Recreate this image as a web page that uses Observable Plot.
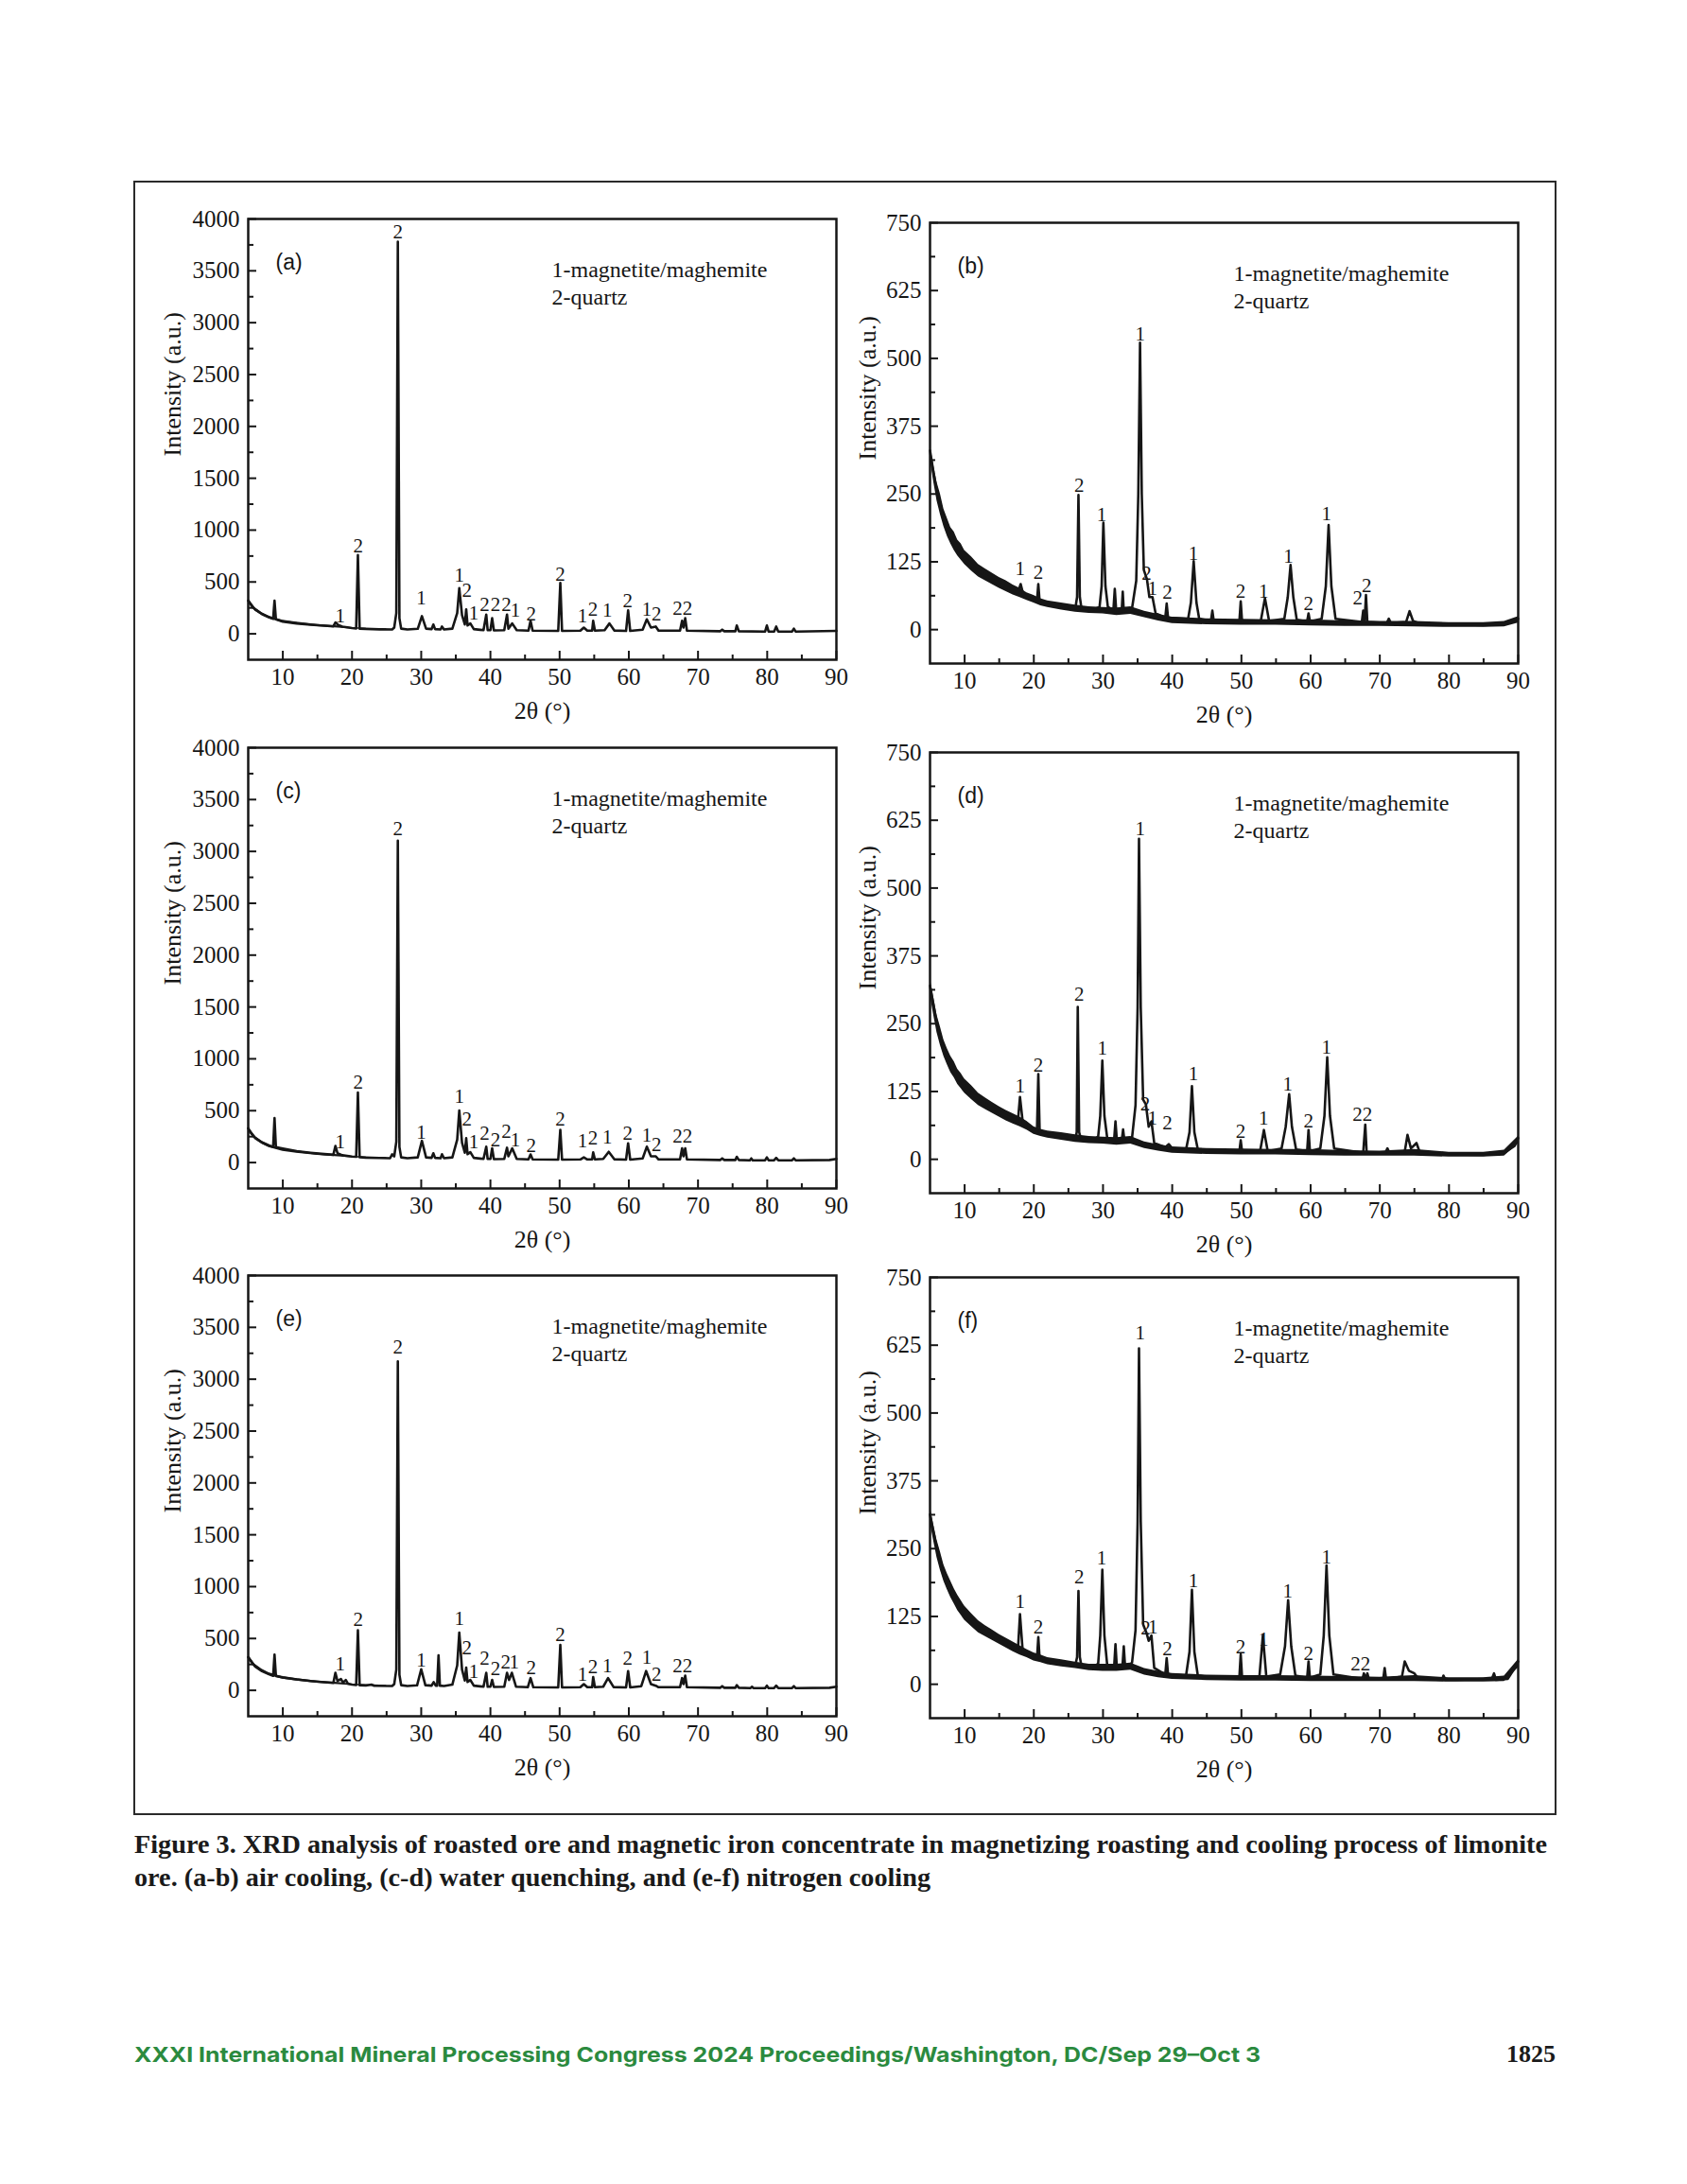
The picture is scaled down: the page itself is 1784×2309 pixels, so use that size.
<!DOCTYPE html>
<html><head><meta charset="utf-8">
<script src="https://cdn.jsdelivr.net/npm/d3@7"></script>
<script src="https://cdn.jsdelivr.net/npm/@observablehq/plot@0.6"></script>
<style>
html,body{margin:0;padding:0;background:#fff;}
#page{position:relative;width:1784px;height:2309px;background:#fff;overflow:hidden;}
.panel{position:absolute;}
.panel svg{max-width:none;}
</style></head>
<body><div id="page"></div>
<script>
// ---------- axis ticks ----------
const xMajor = [10,20,30,40,50,60,70,80,90];
const xMinor = [15,25,35,45,55,65,75,85];
const yLeftMajor = [0,500,1000,1500,2000,2500,3000,3500,4000];
const yLeftMinor = [250,750,1250,1750,2250,2750,3250,3750];
const yRightMajor = [0,125,250,375,500,625,750];
const yRightMinor = [62.5,187.5,312.5,437.5,562.5,687.5];

// ---------- texts ----------
const legend1 = "1-magnetite/maghemite";
const legend2 = "2-quartz";
const yTitle = "Intensity (a.u.)";
const xTitle = "2θ (°)";
const tags = ["(a)","(b)","(c)","(d)","(e)","(f)"];
const caption1 = "Figure 3. XRD analysis of roasted ore and magnetic iron concentrate in magnetizing roasting and cooling process of limonite";
const caption2 = "ore. (a-b) air cooling, (c-d) water quenching, and (e-f) nitrogen cooling";
const footer = "XXXI International Mineral Processing Congress 2024 Proceedings/Washington, DC/Sep 29–Oct 3";
const pageNo = "1825";

// ---------- patterns [2θ, intensity] ----------
const patA = [[5,320],[5.5,270],[6,235],[7,190],[8,160],[8.6,145],[8.8,320],[9.0,140],[10,118],[12,100],[14,88],[16,78],[17.3,72],[17.6,110],[18.0,85],[18.6,70],[20,55],[20.6,52],[20.85,760],[21.1,50],[22,46],[24,43],[25.8,42],[26.1,60],[26.4,200],[26.62,3780],[26.85,150],[27.1,50],[28,42],[29.5,48],[30.1,170],[30.7,50],[31.5,45],[31.75,90],[32.0,45],[32.8,42],[33.0,70],[33.3,42],[34.5,50],[35.2,200],[35.5,440],[35.9,180],[36.3,90],[36.5,236],[36.7,80],[37.1,100],[37.6,45],[39.0,35],[39.4,185],[39.6,35],[40.0,35],[40.25,150],[40.5,33],[42.0,35],[42.4,185],[42.6,50],[43.15,100],[43.8,35],[45.5,30],[45.8,125],[46.1,30],[49.8,28],[50.1,490],[50.35,28],[53.0,30],[53.5,60],[54.0,30],[54.7,30],[54.85,125],[55.1,30],[56.5,35],[57.2,100],[57.9,32],[59.6,28],[59.9,225],[60.2,28],[62.0,40],[62.6,140],[63.2,60],[63.9,70],[64.3,30],[67.4,30],[67.7,125],[67.9,60],[68.15,150],[68.4,30],[73.2,25],[73.5,40],[73.8,25],[75.4,25],[75.6,80],[75.9,25],[79.7,22],[79.95,80],[80.2,22],[81.0,22],[81.3,70],[81.6,22],[83.6,22],[83.85,50],[84.1,22],[90,28]];
const patB = [[5,330],[5.5,290],[6,255],[7,205],[8,172],[9,150],[10,132],[11,120],[12,108],[13,100],[14,92],[15,85],[16,78],[17,72],[17.7,68],[18.1,84],[18.5,64],[19,60],[20,55],[20.45,52],[20.65,84],[20.85,50],[22,46],[24,42],[26.0,39],[26.25,60],[26.45,248],[26.65,60],[26.9,38],[28.5,36],[29.5,42],[29.8,80],[30.05,197],[30.35,80],[30.7,42],[31.5,36],[31.7,75],[31.9,36],[32.7,34],[32.85,70],[33.0,34],[34.2,40],[34.8,90],[35.1,250],[35.35,529],[35.6,250],[35.9,110],[36.35,93],[36.7,60],[37.15,60],[37.6,30],[39.0,22],[39.2,48],[39.4,22],[42.3,20],[42.7,50],[43.1,126],[43.5,50],[43.9,20],[45.6,16],[45.8,35],[46.0,16],[49.7,14],[49.9,52],[50.1,14],[52.8,16],[53.4,58],[54.0,16],[56.2,20],[56.7,60],[57.1,119],[57.5,60],[58.0,18],[59.5,15],[59.7,30],[59.9,15],[61.6,20],[62.2,80],[62.6,193],[63.0,80],[63.6,20],[67.4,14],[67.6,35],[67.8,14],[68.0,64],[68.2,14],[71.0,12],[71.3,20],[71.6,12],[73.8,14],[74.3,34],[74.8,16],[76,10],[80,10],[85,8],[88,10],[90,20]];
const patC = [[5,330],[5.5,280],[6,240],[7,195],[8,165],[8.6,150],[8.8,430],[9.0,148],[10,135],[12,110],[14,95],[16,82],[17.3,75],[17.6,160],[17.9,90],[18.6,70],[20,58],[20.6,55],[20.85,675],[21.1,52],[22,47],[24,44],[25.5,42],[25.8,80],[26.1,60],[26.4,200],[26.62,3104],[26.85,150],[27.1,50],[28,42],[29.5,50],[30.1,209],[30.7,50],[31.5,45],[31.75,90],[32.0,45],[32.8,42],[33.0,80],[33.3,42],[34.5,50],[35.2,220],[35.5,502],[35.9,190],[36.3,95],[36.5,235],[36.7,80],[37.1,100],[37.6,45],[39.0,35],[39.4,153],[39.6,35],[40.0,35],[40.25,137],[40.5,33],[42.0,35],[42.4,143],[42.6,60],[43.15,137],[43.8,35],[45.5,30],[45.8,78],[46.1,30],[49.8,28],[50.1,316],[50.35,28],[53.0,30],[53.5,50],[54.0,30],[54.7,30],[54.85,98],[55.1,30],[56.3,35],[57.1,104],[57.9,32],[59.6,28],[59.9,186],[60.2,28],[62.0,40],[62.6,153],[63.2,60],[63.9,60],[64.3,30],[67.4,30],[67.7,137],[67.9,60],[68.15,137],[68.4,30],[73.2,25],[73.5,40],[73.8,25],[75.4,25],[75.6,55],[75.9,25],[77.5,22],[77.7,40],[77.9,22],[79.7,22],[79.95,50],[80.2,22],[81.0,22],[81.3,45],[81.6,22],[83.6,22],[83.85,40],[84.1,22],[89,25],[90,35]];
const patD = [[5,320],[5.5,285],[6,250],[7,205],[8,175],[9,152],[10,135],[11,122],[12,110],[13,102],[14,95],[15,87],[16,80],[17,74],[17.7,70],[18.0,115],[18.4,68],[19,62],[20,52],[20.45,50],[20.65,157],[20.85,48],[22,45],[24,42],[26.0,38],[26.2,50],[26.35,281],[26.55,50],[26.8,38],[28.5,35],[29.3,42],[29.6,80],[29.9,182],[30.2,80],[30.6,40],[31.6,35],[31.8,70],[32.0,35],[32.7,34],[32.9,55],[33.1,34],[34.2,40],[34.7,100],[35.0,280],[35.2,591],[35.45,280],[35.8,110],[36.2,101],[36.6,60],[37.0,70],[37.4,30],[39.0,22],[39.5,28],[40,20],[42.0,18],[42.5,50],[42.85,135],[43.2,50],[43.7,18],[46,15],[49.7,14],[49.9,35],[50.1,14],[52.7,15],[53.25,54],[53.8,15],[55.8,20],[56.4,60],[56.9,120],[57.3,60],[57.9,18],[59.5,15],[59.7,54],[59.9,15],[61.4,20],[62.0,80],[62.4,188],[62.8,80],[63.4,20],[67.6,12],[67.9,64],[68.1,12],[70.8,12],[71.1,20],[71.4,12],[73.6,14],[74.0,45],[74.5,20],[75.3,30],[75.8,12],[80,9],[85,8],[88,12],[89.5,25],[90,39]];
const patE = [[5,320],[5.5,270],[6,230],[7,185],[8,155],[8.6,140],[8.8,344],[9.0,138],[10,125],[12,105],[14,90],[16,78],[17.3,72],[17.6,169],[17.9,90],[18.4,110],[18.7,75],[19.1,100],[19.4,65],[20,55],[20.6,52],[20.85,580],[21.1,50],[22,46],[22.8,55],[23.2,44],[25.8,42],[26.1,60],[26.4,200],[26.62,3173],[26.85,150],[27.1,50],[28,42],[29.4,48],[30.0,203],[30.6,50],[31.5,45],[31.8,80],[32.1,45],[32.3,45],[32.5,338],[32.7,45],[33.3,42],[34.5,55],[35.2,240],[35.5,557],[35.9,200],[36.3,95],[36.5,220],[36.7,80],[37.1,100],[37.6,45],[39.0,35],[39.4,169],[39.6,35],[40.0,35],[40.25,101],[40.5,33],[42.0,35],[42.4,169],[42.7,100],[43.1,169],[43.7,35],[45.4,30],[45.8,118],[46.2,30],[49.8,28],[50.1,439],[50.35,28],[53.0,30],[53.5,60],[54.0,30],[54.7,30],[54.85,128],[55.1,30],[56.3,35],[57.0,118],[57.8,32],[59.6,28],[59.9,186],[60.2,28],[61.8,40],[62.5,186],[63.2,60],[63.9,45],[64.3,30],[67.4,30],[67.7,118],[67.9,60],[68.15,142],[68.4,30],[73.2,25],[73.5,40],[73.8,25],[75.4,25],[75.6,50],[75.9,25],[77.6,22],[77.8,35],[78.0,22],[79.7,22],[79.95,45],[80.2,22],[81.0,22],[81.3,45],[81.6,22],[83.6,22],[83.85,40],[84.1,22],[89,25],[90,35]];
const patF = [[5,313],[5.5,280],[6,250],[7,205],[8,175],[9,150],[10,130],[11,118],[12,105],[13,97],[14,90],[15,82],[16,75],[17,68],[17.7,62],[18.0,129],[18.4,60],[19,55],[20,50],[20.45,46],[20.65,87],[20.85,45],[22,42],[24,38],[26.0,35],[26.25,50],[26.45,172],[26.65,50],[26.9,33],[28.5,30],[29.3,38],[29.6,90],[29.9,211],[30.2,90],[30.6,36],[31.6,30],[31.8,74],[32.0,30],[32.8,30],[33.0,70],[33.2,30],[34.2,40],[34.7,100],[35.0,300],[35.2,619],[35.45,300],[35.8,110],[36.3,94],[36.6,80],[37.0,90],[37.4,30],[39.0,18],[39.2,48],[39.4,18],[42.0,16],[42.5,60],[42.85,174],[43.2,60],[43.7,16],[46,12],[49.7,12],[49.9,55],[50.1,12],[52.6,14],[53.1,90],[53.6,14],[55.6,18],[56.3,70],[56.75,155],[57.2,70],[57.8,16],[59.5,12],[59.7,42],[59.9,12],[61.4,18],[61.9,90],[62.3,219],[62.7,90],[63.3,18],[67.5,10],[67.7,20],[68.0,10],[68.2,20],[68.4,10],[70.5,10],[70.7,30],[70.9,10],[73.2,14],[73.6,42],[74.2,25],[75.0,20],[75.6,10],[79.0,8],[79.2,16],[79.5,8],[81,8],[86.2,10],[86.5,20],[86.8,8],[88.5,10],[89.5,30],[90,42]];

// ---------- background noise envelopes [2θ, low, high] ----------
const bandLeft = [[5,300,340],[6,220,252],[7,176,204],[8,144,170],[10,108,130],[12,90,112],[15,70,90],[18,56,76],[20,46,60],[25,35,48]];
const bandB = [[5,318,342],[5.5,275,305],[6,238,272],[6.5,212,250],[7,190,222],[7.5,172,205],[8,158,188],[8.5,146,180],[9,136,165],[9.5,128,158],[10,120,146],[11,108,134],[12,97,120],[13,90,112],[14,83,104],[15,76,96],[16,70,90],[17,64,82],[18,59,76],[19,54,68],[20,49,63],[21,44,57],[22,41,53],[24,36,49],[26,32,45],[28,30,42],[30,29,41],[32,26,40],[34,28,42],[36,22,34],[38,16,28],[40,11,23],[45,9,20],[50,8,19],[55,8,18],[60,7,18],[65,6,16],[70,6,15],[75,5,15],[80,4,13],[85,4,13],[88,5,15],[90,12,24]];
const bandD = [[5,305,335],[5.5,268,300],[6,234,266],[6.5,210,244],[7,190,220],[7.5,174,204],[8,160,190],[8.5,150,180],[9,138,166],[9.5,130,158],[10,122,148],[11,110,136],[12,99,122],[13,92,113],[14,85,105],[15,78,97],[16,71,90],[17,65,84],[18,60,78],[19,54,70],[20,46,60],[21,42,55],[22,39,52],[24,35,49],[26,31,45],[28,29,42],[30,28,41],[32,26,40],[34,28,42],[36,20,32],[38,15,27],[40,11,23],[45,9,20],[50,8,19],[55,8,18],[60,7,18],[65,6,16],[70,6,15],[75,6,18],[80,4,13],[85,4,13],[88,6,17],[90,28,42]];
const bandF = [[5,300,328],[5.5,266,296],[6,234,266],[6.5,210,244],[7,190,220],[7.5,174,204],[8,160,190],[8.5,148,176],[9,136,164],[9.5,127,154],[10,118,144],[11,106,130],[12,95,117],[13,88,108],[14,81,100],[15,74,92],[16,67,85],[17,60,78],[18,54,71],[19,49,64],[20,43,58],[21,40,54],[22,36,49],[24,32,45],[26,29,41],[28,25,37],[30,24,37],[32,24,37],[34,26,39],[36,17,29],[38,12,24],[40,9,20],[45,7,17],[50,6,16],[55,6,16],[60,5,15],[65,5,14],[70,5,13],[75,5,16],[80,4,12],[85,4,12],[88,5,15],[90,30,45]];

// ---------- peak labels [2θ, intensity, text] ----------
const labA = [[26.62,3872,"2"],[20.9,844,"2"],[18.3,169,"1"],[30.0,348,"1"],[35.5,560,"1"],[36.6,420,"2"],[37.6,195,"1"],[39.15,277,"2"],[40.75,277,"2"],[42.3,277,"2"],[43.6,226,"1"],[45.9,192,"2"],[50.1,574,"2"],[53.3,169,"1"],[54.8,236,"2"],[56.9,226,"1"],[59.85,320,"2"],[62.6,236,"1"],[64.0,186,"2"],[67.75,246,"22"]];
const labB = [[18.0,112,"1"],[20.66,105,"2"],[26.56,266,"2"],[29.8,211,"1"],[35.36,545,"1"],[36.3,103,"2"],[37.15,75,"1"],[39.3,68,"2"],[43.05,140,"1"],[49.9,71,"2"],[53.2,71,"1"],[56.8,135,"1"],[59.7,48,"2"],[62.3,214,"1"],[66.8,58,"2"],[68.1,81,"2"]];
const labC = [[26.62,3217,"2"],[20.9,772,"2"],[18.3,196,"1"],[30.0,293,"1"],[35.5,640,"1"],[36.6,420,"2"],[37.6,195,"1"],[39.15,284,"2"],[40.75,218,"2"],[42.3,300,"2"],[43.6,218,"1"],[45.9,163,"2"],[50.1,414,"2"],[53.3,209,"1"],[54.8,235,"2"],[56.9,241,"1"],[59.85,284,"2"],[62.6,267,"1"],[64.0,170,"2"],[67.75,251,"22"]];
const labD = [[18.0,135,"1"],[20.66,174,"2"],[26.56,304,"2"],[29.9,204,"1"],[35.36,610,"1"],[36.1,102,"2"],[37.15,76,"1"],[39.3,67,"2"],[43.05,157,"1"],[49.9,52,"2"],[53.2,76,"1"],[56.7,138,"1"],[59.7,70,"2"],[62.3,207,"1"],[67.5,82,"22"]];
const labE = [[26.62,3308,"2"],[20.9,682,"2"],[18.3,253,"1"],[30.0,287,"1"],[35.5,690,"1"],[36.6,410,"2"],[37.6,185,"1"],[39.15,304,"2"],[40.75,209,"2"],[42.2,270,"2"],[43.45,270,"1"],[45.9,219,"2"],[50.1,540,"2"],[53.3,152,"1"],[54.8,230,"2"],[56.9,236,"1"],[59.85,304,"2"],[62.6,320,"1"],[64.0,152,"2"],[67.75,236,"22"]];
const labF = [[18.0,152,"1"],[20.66,106,"2"],[26.56,198,"2"],[29.8,232,"1"],[35.36,648,"1"],[36.15,103,"2"],[37.2,106,"1"],[39.3,66,"2"],[43.05,190,"1"],[49.9,68,"2"],[53.2,82,"1"],[56.7,172,"1"],[59.7,56,"2"],[62.3,235,"1"],[67.2,37,"22"]];

// ---------- build ----------
const SERIF = "'Liberation Serif','Times New Roman',serif";
const SANS = "'Liberation Sans',Arial,sans-serif";
const INK = "#161616";
const page = document.getElementById("page");
const plain = d => String(d);

function panel(cfg) {
  const left = cfg.scale === "L";
  const yMaj = left ? yLeftMajor : yRightMajor;
  const yMin = left ? yLeftMinor : yRightMinor;
  const yDom = left ? [-250, 4000] : [-62.5, 750];
  const chart = Plot.plot({
    width: 760, height: 580,
    marginLeft: 120, marginRight: 18, marginTop: 30, marginBottom: 84,
    style: {background: "transparent", fontFamily: SERIF, fontSize: "25px", color: INK, overflow: "visible"},
    x: {domain: [5, 90]},
    y: {domain: yDom},
    marks: [
      Plot.areaY(cfg.band, {x: d => d[0], y1: d => d[1], y2: d => d[2], fill: INK, curve: "linear"}),
      Plot.line(cfg.pts, {x: d => d[0], y: d => d[1], stroke: INK, strokeWidth: 2.6, strokeLinejoin: "round"}),
      Plot.text(cfg.labels, {x: d => d[0], y: d => d[1], text: d => d[2], fontSize: 21, fill: INK}),
      Plot.frame({stroke: INK, strokeWidth: 2.5}),
      Plot.axisX(xMajor, {tickSize: 9, dy: -9, tickFormat: () => "", label: null, strokeWidth: 2, stroke: INK}),
      Plot.axisX(xMinor, {tickSize: 5, dy: -5, tickFormat: () => "", label: null, strokeWidth: 2, stroke: INK}),
      Plot.axisX(xMajor, {tickSize: 0, tickPadding: 9, tickFormat: plain, label: null, fontSize: 25, fill: INK}),
      Plot.axisY(yMaj, {tickSize: 9, dx: 9, tickFormat: () => "", label: null, strokeWidth: 2, stroke: INK}),
      Plot.axisY(yMin, {tickSize: 6, dx: 6, tickFormat: () => "", label: null, strokeWidth: 2, stroke: INK}),
      Plot.axisY(yMaj, {tickSize: 0, tickPadding: 9, tickFormat: plain, label: null, fontSize: 25, fill: INK}),
      Plot.text([cfg.tag], {text: d => d, frameAnchor: "top-left", dx: 29, dy: 37, textAnchor: "start", fontFamily: SANS, fontSize: 23, fill: INK}),
      Plot.text([legend1], {text: d => d, frameAnchor: "top-left", dx: 321, dy: 44, textAnchor: "start", fontSize: 24, fill: INK}),
      Plot.text([legend2], {text: d => d, frameAnchor: "top-left", dx: 321, dy: 73, textAnchor: "start", fontSize: 24, fill: INK}),
      Plot.text([yTitle], {text: d => d, frameAnchor: "left", dx: left ? -80 : -66, dy: 18, rotate: -90, fontSize: 26, fill: INK}),
      Plot.text([xTitle], {text: d => d, frameAnchor: "bottom", dy: 62, fontSize: 26, fill: INK})
    ]
  });
  const holder = document.createElement("div");
  holder.className = "panel";
  holder.style.left = cfg.left + "px";
  holder.style.top = cfg.top + "px";
  holder.appendChild(chart);
  page.appendChild(holder);
}

const panels = [
  {tag: tags[0], pts: patA, band: bandLeft, labels: labA, scale: "L", left: 142, top: 201},
  {tag: tags[1], pts: patB, band: bandB, labels: labB, scale: "R", left: 863, top: 205},
  {tag: tags[2], pts: patC, band: bandLeft, labels: labC, scale: "L", left: 142, top: 760},
  {tag: tags[3], pts: patD, band: bandD, labels: labD, scale: "R", left: 863, top: 765},
  {tag: tags[4], pts: patE, band: bandLeft, labels: labE, scale: "L", left: 142, top: 1318},
  {tag: tags[5], pts: patF, band: bandF, labels: labF, scale: "R", left: 863, top: 1320}
];
panels.forEach(panel);

// outer frame
const outer = document.createElement("div");
outer.style.cssText = "position:absolute;left:141px;top:191px;width:1505px;height:1728px;border:2px solid #2a2a2a;box-sizing:border-box;";
page.appendChild(outer);

// caption & footer
const ns = "http://www.w3.org/2000/svg";
const svg = document.createElementNS(ns, "svg");
svg.setAttribute("width", 1784); svg.setAttribute("height", 400);
svg.style.cssText = "position:absolute;left:0;top:1920px;";
function addText(str, x, y, opts) {
  const t = document.createElementNS(ns, "text");
  t.textContent = str;
  t.setAttribute("x", x); t.setAttribute("y", y);
  for (const k in opts) t.setAttribute(k, opts[k]);
  svg.appendChild(t);
}
addText(caption1, 142, 1959 - 1920, {"font-family": SERIF, "font-weight": "bold", "font-size": 27, fill: "#1a1a1a", textLength: 1494, lengthAdjust: "spacingAndGlyphs"});
addText(caption2, 142, 1994 - 1920, {"font-family": SERIF, "font-weight": "bold", "font-size": 27, fill: "#1a1a1a", textLength: 842, lengthAdjust: "spacingAndGlyphs"});
addText(footer, 142, 2180 - 1920, {"font-family": "Inter, Roboto, sans-serif", "font-weight": "bold", "font-size": 22, fill: "#2b8a3e", textLength: 1191, lengthAdjust: "spacingAndGlyphs"});
addText(pageNo, 1645, 2180 - 1920, {"font-family": SERIF, "font-weight": "bold", "font-size": 26, fill: "#1a1a1a", "text-anchor": "end"});
page.appendChild(svg);
</script>
</body></html>
